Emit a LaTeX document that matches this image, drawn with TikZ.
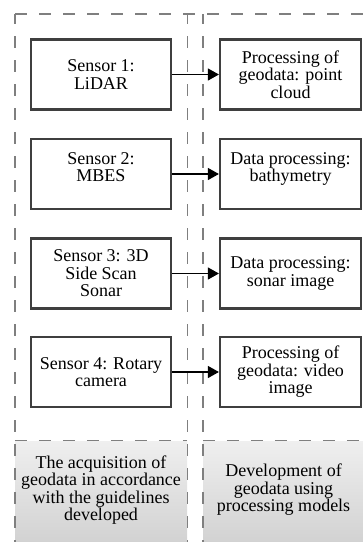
\documentclass[tikz,border=0pt]{standalone}
\usepackage{fontspec}
\setmainfont{Liberation Serif}
\usetikzlibrary{arrows.meta}
\definecolor{boxline}{HTML}{3F3F3F}
\definecolor{dashgray}{HTML}{7F7F7F}
\definecolor{paneltop}{HTML}{EFEFEF}
\definecolor{panelbot}{HTML}{D2D2D2}
\begin{document}
\begin{tikzpicture}[x=1pt,y=-1pt,
  every node/.style={font=\fontsize{18}{17.5}\selectfont, align=center, inner sep=0pt},
  sbox/.style={draw=boxline, line width=2.2pt, minimum width=140pt, minimum height=70pt},
  gline/.style={draw=dashgray, line width=1.3pt, dash pattern=on 12pt off 12pt},
  arr/.style={draw=black, line width=1.1pt, -{Triangle[length=11pt,width=12pt]}},
  panel/.style={top color=paneltop, bottom color=panelbot, draw=none}
]
\useasboundingbox (0,0) rectangle (363,542);
% bottom panels
\node[panel, minimum width=172pt, minimum height=101pt] (pl) at (101,491.5) {};
\node[panel, minimum width=160pt, minimum height=101pt] (pr) at (283,491.5) {};
\node (tl) at (101,490) {The acquisition of\\geodata in accordance\\with the guidelines\\developed};
\node (tr) at (283.5,490) {Development of\\geodata using\\processing models};
% dashed frame lines
\coordinate (ftl) at (15,14);
\coordinate (ftr) at (363,14);
\coordinate (fbl) at (15,542);
\coordinate (m1t) at (187.5,14);
\coordinate (m1b) at (187.5,542);
\coordinate (m2t) at (203,14);
\coordinate (m2b) at (203,542);
\draw[gline] (ftl) -- (ftr);
\draw[gline, dash phase=2pt] (ftl) -- (fbl);
\draw[gline, dash phase=2pt] (m1t) -- (m1b);
\draw[gline, dash phase=2pt] (m2t) -- (m2b);
\draw[gline] (pl.north west) -- (pl.north east);
\draw[gline] (pr.north west) -- (pr.north east);
% sensor boxes
\node[sbox] (l1) at (101,74.5) {Sensor 1:\\LiDAR};
\node[sbox] (l2) at (101,174) {Sensor 2:\\MBES\\[-4pt]\phantom{x}};
\node[sbox] (l3) at (101,273.5) {Sensor 3: 3D\\Side Scan\\Sonar};
\node[sbox] (l4) at (101,372) {Sensor 4: Rotary\\camera};
% processing boxes
\node[sbox, minimum width=141pt] (r1) at (290.5,74.5) {Processing of\\geodata: point\\cloud};
\node[sbox, minimum width=141pt] (r2) at (290.5,174) {Data processing:\\bathymetry\\[-4pt]\phantom{x}};
\node[sbox, minimum width=141pt] (r3) at (290.5,273.5) {Data processing:\\sonar image};
\node[sbox, minimum width=141pt] (r4) at (290.5,372) {Processing of\\geodata: video\\image};
% arrows
\draw[arr] (l1) -- (r1);
\draw[arr] (l2) -- (r2);
\draw[arr] (l3) -- (r3);
\draw[arr] (l4) -- (r4);
\end{tikzpicture}
\end{document}
